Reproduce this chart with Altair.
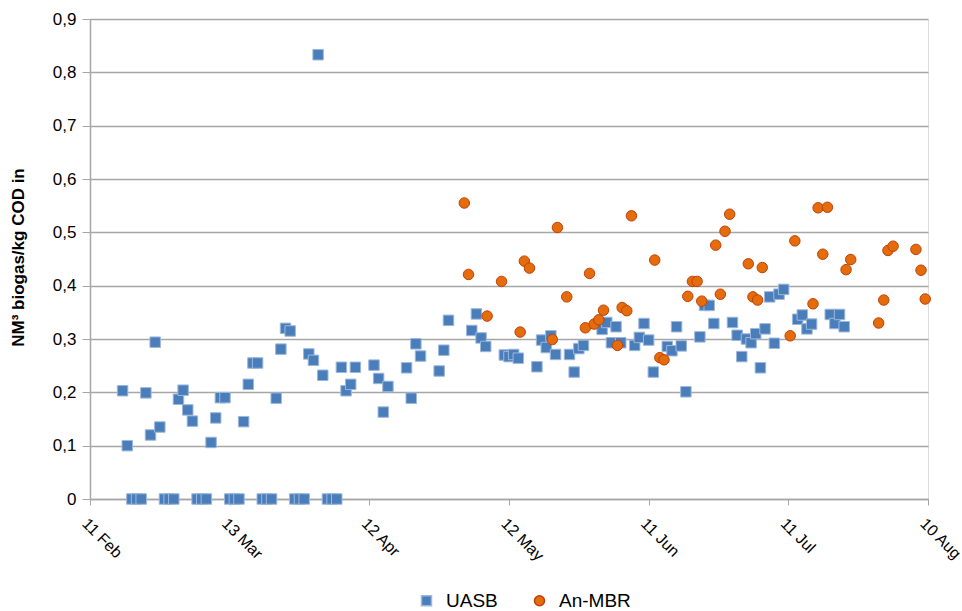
import altair as alt
import pandas as pd

START = "2013-02-11"

# UASB: day offset from 11 Feb, value (NM3 biogas / kg COD in)
uasb_day = [7, 8, 9, 10, 11, 12, 13, 14, 15, 16, 17, 18, 19, 20, 21, 22, 23, 24, 25,
            26, 27, 28, 29, 30, 31, 32, 33, 34, 35, 36, 37, 38, 39, 40, 41, 42, 43,
            44, 45, 46, 47, 48, 49, 50, 51, 52, 53, 54, 55, 56, 57,
            61, 62, 63, 64, 68, 69, 70, 71, 75, 76, 77, 82, 83, 84, 85,
            89, 90, 91, 92, 96, 97, 98, 99, 100, 103, 104, 105, 106,
            110, 111, 112, 113, 114, 117, 118, 119, 120, 121, 124, 125, 126, 127, 128,
            131, 132, 133, 134, 138, 139, 140, 141, 142, 143, 144, 145, 146, 147, 148, 149,
            152, 153, 154, 155, 159, 160, 161, 162]
uasb_val = [0.203, 0.100, 0, 0, 0, 0.199, 0.120, 0.294, 0.135, 0, 0, 0, 0.187, 0.204, 0.167, 0.146, 0, 0, 0,
            0.106, 0.152, 0.190, 0.190, 0, 0, 0, 0.145, 0.215, 0.255, 0.255, 0, 0, 0, 0.189, 0.281, 0.320, 0.315,
            0, 0, 0, 0.272, 0.260, 0.833, 0.232, 0, 0, 0, 0.247, 0.203, 0.215, 0.247,
            0.251, 0.226, 0.163, 0.211, 0.246, 0.189, 0.291, 0.268, 0.240, 0.279, 0.335, 0.316, 0.347, 0.302, 0.286,
            0.270, 0.267, 0.271, 0.264, 0.248, 0.298, 0.284, 0.306, 0.271, 0.271, 0.238, 0.282, 0.288,
            0.318, 0.331, 0.293, 0.323, 0.293, 0.288, 0.303, 0.329, 0.298, 0.238, 0.286, 0.278, 0.323, 0.287, 0.201,
            0.304, 0.363, 0.363, 0.329, 0.331, 0.307, 0.267, 0.300, 0.293, 0.310, 0.246, 0.319, 0.379, 0.292, 0.384, 0.393,
            0.337, 0.345, 0.319, 0.328, 0.346, 0.329, 0.346, 0.323]

# An-MBR
mbr_day = [80.4, 81.3, 85.3, 88.4, 92.4, 93.3, 94.4, 99.3, 100.4, 102.4, 106.4, 107.3, 108.3,
           109.3, 110.3, 113.3, 114.3, 115.3, 116.3, 121.3, 122.4, 123.3, 128.4, 129.4, 130.4,
           131.4, 134.4, 135.4, 136.4, 137.4, 141.4, 142.4, 143.4, 144.4, 150.4, 151.4, 155.3,
           156.4, 157.4, 158.4, 162.4, 163.4, 169.4, 170.5, 171.4, 172.5, 177.4, 178.5, 179.4]
mbr_val = [0.555, 0.421, 0.343, 0.408, 0.313, 0.446, 0.433, 0.299, 0.509, 0.379, 0.321, 0.423, 0.328,
           0.336, 0.354, 0.288, 0.359, 0.353, 0.531, 0.448, 0.265, 0.261, 0.380, 0.408, 0.408,
           0.371, 0.476, 0.384, 0.502, 0.534, 0.441, 0.379, 0.373, 0.434, 0.306, 0.484, 0.366,
           0.546, 0.459, 0.547, 0.430, 0.449, 0.330, 0.373, 0.466, 0.474, 0.468, 0.429, 0.375]

series = ["UASB", "An-MBR"]
tick_labels = ["11 Feb", "13 Mar", "12 Apr", "12 May", "11 Jun", "11 Jul", "10 Aug"]
tick_days = [0, 30, 60, 90, 120, 150, 180]

start = pd.Timestamp(START)


def to_iso(days):
    return [(start + pd.to_timedelta(d, unit="D")).strftime("%Y-%m-%dT%H:%M:%SZ") for d in days]


df = pd.concat([
    pd.DataFrame({"date": to_iso(uasb_day), "value": uasb_val, "series": series[0]}),
    pd.DataFrame({"date": to_iso(mbr_day), "value": mbr_val, "series": series[1]}),
], ignore_index=True)

tick_vals = [alt.DateTime(year=t.year, month=t.month, date=t.day, utc=True)
             for t in [start + pd.to_timedelta(d, unit="D") for d in tick_days]]

FONT = "Liberation Sans"

chart = alt.Chart(df).mark_point(filled=True, size=110, strokeWidth=1, opacity=1).encode(
    x=alt.X("date:T",
            scale=alt.Scale(type="utc", domain=[tick_vals[0], tick_vals[-1]]),
            axis=alt.Axis(values=tick_vals, labelExpr="utcFormat(datum.value, '%-d %b')",
                          title=None, grid=False, labelAngle=45, labelAlign="left",
                          labelBaseline="top", labelPadding=10, tickSize=6,
                          labelFontSize=16, labelColor="#000000", labelFont=FONT,
                          domainColor="#A6A6A6", tickColor="#A6A6A6", domainWidth=1.5)),
    y=alt.Y("value:Q",
            scale=alt.Scale(domain=[0, 0.9], nice=False, zero=True),
            axis=alt.Axis(values=[0, 0.1, 0.2, 0.3, 0.4, 0.5, 0.6, 0.7, 0.8, 0.9],
                          labelExpr="datum.value == 0 ? '0' : replace(format(datum.value, '.1f'), '.', ',')",
                          title="NM³ biogas/kg COD in", titleFont=FONT, titleFontSize=17,
                          titleFontWeight="bold", titleColor="#000000",
                          titleX=-72, titleY=238, titleAngle=-90, titleBaseline="middle",
                          labelFontSize=17, labelColor="#000000", labelFont=FONT,
                          labelPadding=6, tickSize=8, grid=True, gridColor="#A6A6A6",
                          gridWidth=1.5, domainColor="#A6A6A6", tickColor="#A6A6A6",
                          domainWidth=1.5)),
    fill=alt.Fill("series:N", scale=alt.Scale(domain=series, range=["#4A7EBB", "#E46C0A"]),
                  legend=alt.Legend(title=None, orient="none", direction="horizontal",
                                    legendX=327, legendY=572, labelFontSize=19,
                                    labelFont=FONT, labelColor="#000000", symbolSize=100,
                                    labelOffset=10, columnPadding=32, padding=0)),
    shape=alt.Shape("series:N", scale=alt.Scale(domain=series, range=["square", "circle"])),
    stroke=alt.Stroke("series:N", scale=alt.Scale(domain=series, range=["#9DB8DC", "#C0410A"])),
    order=alt.Order("sort_key:Q"),
).transform_calculate(
    sort_key="datum.series == 'UASB' ? 0 : 1"
).properties(
    width=838, height=480,
    autosize=alt.AutoSizeParams(type="none"),
    padding={"left": 90, "top": 19, "right": 34, "bottom": 112},
).configure_view(stroke=None).configure(background="white")

chart.save("out.html", embed_options={"renderer": "svg", "actions": False})
